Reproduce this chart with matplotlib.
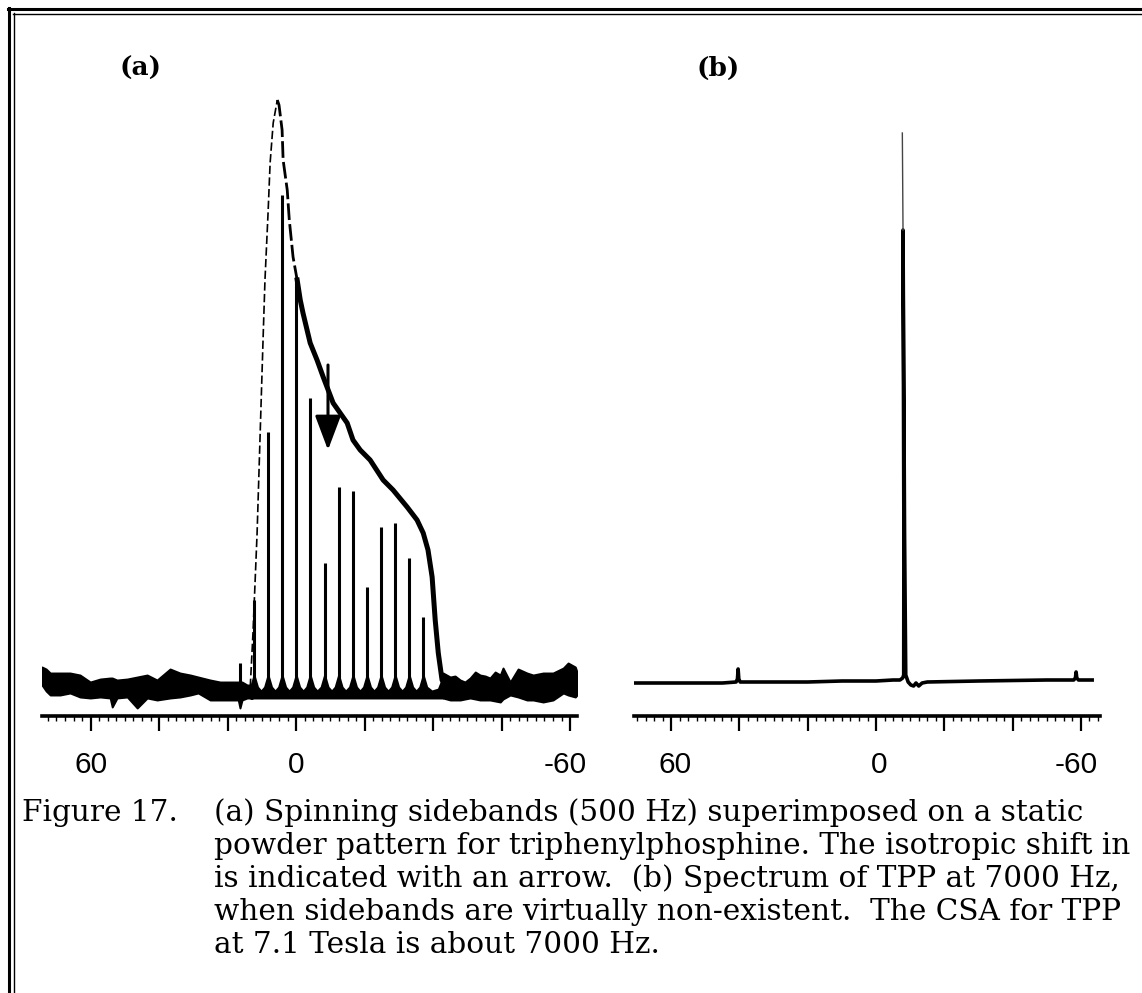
import matplotlib
matplotlib.use("Agg")
import matplotlib.pyplot as plt
from matplotlib.lines import Line2D
from matplotlib.ticker import FixedLocator, NullFormatter
import matplotlib.transforms as mtransforms

W, H, DPI = 1142, 993, 100

# ---------------- data: panel (a) ----------------
# noisy baseline outside the sideband region (ppm, upper / lower edge of trace)
noise_l_x = [74.2, 73.0, 71.8, 68.9, 66.0, 63.1, 60.1, 57.2, 54.3, 53.7, 52.3, 49.3, 46.4,
             43.5, 40.6, 36.8, 33.9, 30.9, 28.6, 25.1, 22.2, 19.3, 16.9, 16.4, 15.8, 14.3, 12.8]
noise_l_hi = [20, 18, 14, 14, 14, 12, 5, 8, 9, 9, 7, 8, 10,
              12, 7, 18, 14, 12, 10, 7, 5, 5, 5, 5, 5, 2, 2]
noise_l_lo = [2, -4, -8, -8, -6, -10, -11, -10, -11, -20, -11, -10, -21,
              -11, -13, -11, -10, -8, -6, -13, -13, -13, -13, -21, -13, -11, -11]
noise_r_x = [-42.9, -45.0, -46.4, -47.9, -49.3, -50.8, -52.3, -53.7, -55.2, -56.6, -58.1, -59.6,
             -60.4, -62.5, -64.8, -67.4, -69.2, -72.1, -75.0, -78.0, -79.4, -81.5, -82.0]
noise_r_hi = [14, 10, 11, 7, 5, 9, 15, 12, 11, 9, 15, 12,
              19, 5, 18, 14, 12, 14, 14, 19, 24, 20, 15]
noise_r_lo = [-11, -13, -13, -13, -12, -11, -12, -13, -13, -13, -14, -15,
              -12, -8, -10, -13, -13, -15, -13, -6, -8, -10, -8]

# spinning sidebands (ppm, height)
sb_pos = [16.4, 12.3, 8.2, 4.1, 0.0, -4.1, -8.3, -12.4, -16.6, -20.7, -24.8, -28.9, -33.0, -37.1]
sb_height = [24, 87, 255, 492, 410, 289, 124, 200, 196, 100, 160, 164, 129, 70]
# skirt levels of the sideband trace: at the spike foot, a quarter way out, mid-valley, bottom edge
skirt_foot, skirt_quarter, skirt_valley, skirt_bottom = 12, 0, -4, -11

# static powder pattern envelope
static_rise_x = [13.4, 12.6, 11.4, 10.5, 9.6, 9.1, 8.2, 7.6, 6.7, 5.5]
static_rise_y = [0, 54, 154, 254, 354, 407, 474, 524, 564, 587]
static_top_x = [5.5, 5.0, 4.1, 3.8, 2.6, 2.0, 0.9, -0.3]
static_top_y = [587, 582, 557, 527, 497, 467, 430, 407]
static_fall_x = [-0.3, -1.2, -2.0, -4.1, -6.1, -7.9, -10.8, -14.9, -16.6, -18.7, -21.6, -25.4,
                 -28.3, -32.4, -35.3, -37.1, -38.5, -39.7, -40.6, -41.5, -42.6, -43.8]
static_fall_y = [407, 387, 374, 344, 327, 310, 284, 264, 247, 237, 227, 207,
                 197, 180, 167, 154, 137, 110, 67, 34, 7, 0]

iso_shift = -9.3
arrow_from, arrow_to = 322, 237

# ---------------- data: panel (b) ----------------
b_x = [70.9, 60, 45, 41.0, 40.6, 40.4, 40.2, 39.8, 30, 20, 10, 0, -5, -7.0, -7.8, -8.1,
       -8.15, -7.9, -8.35, -8.7, -9.4, -10.2, -11.0, -11.7, -12.5, -13.5, -15, -30, -50,
       -57.9, -58.4, -58.6, -58.8, -59.3, -63.3]
b_y = [0, 0, 0, 1, 4, 14, 4, 1, 1, 1, 2, 2, 3, 3, 5, 8,
       150, 453, 150, 8, 1, -2, -3, 0, -3, 0, 1, 2, 3,
       3, 5, 11, 5, 3, 3]
b_peak_top = (-7.9, 453, -7.7, 550)

# ---------------- axis / text ----------------
ticks_major = [60, 40, 20, 0, -20, -40, -60, -80]
ticks_minor_step = 2.5
a_label_pos = [60, 0, -78.5]
b_label_pos = [59, -1, -58.6]
tick_labels = ["60", "0", "-60"]

caption_head = "Figure 17."
caption_lines = [
    "(a) Spinning sidebands (500 Hz) superimposed on a static",
    "powder pattern for triphenylphosphine. The isotropic shift in",
    "is indicated with an arrow.  (b) Spectrum of TPP at 7000 Hz,",
    "when sidebands are virtually non-existent.  The CSA for TPP",
    "at 7.1 Tesla is about 7000 Hz.",
]

fig = plt.figure(figsize=(W / DPI, H / DPI), dpi=DPI)
fig.patch.set_facecolor("white")


def fx(x):
    return x / W


def fy(y):
    return 1 - y / H


def make_axes(x0, x1, xlim, ylim):
    ax = fig.add_axes([fx(x0), fy(716), (x1 - x0) / W, (716 - 90) / H])
    ax.set_xlim(*xlim)
    ax.set_ylim(*ylim)
    ax.patch.set_alpha(0)
    for s in ["left", "right", "top"]:
        ax.spines[s].set_visible(False)
    ax.spines["bottom"].set_linewidth(2.6)
    ax.set_yticks([])
    lo, hi = min(xlim), max(xlim)
    maj = [t for t in ticks_major if lo <= t <= hi]
    ax.xaxis.set_major_locator(FixedLocator(maj))
    n0 = int(lo // ticks_minor_step) - 1
    mins = [k * ticks_minor_step for k in range(n0, int(hi / ticks_minor_step) + 2)]
    mins = [m for m in mins if lo <= m <= hi and m not in maj]
    ax.xaxis.set_minor_locator(FixedLocator(mins))
    ax.xaxis.set_major_formatter(NullFormatter())
    ax.tick_params(axis="x", which="major", direction="out", length=11, width=1.6, color="black")
    ax.tick_params(axis="x", which="minor", direction="out", length=3.5, width=1.0, color="black")
    return ax


axA = make_axes(42, 577, (74.2, -82.0), (-29, 597))
axB = make_axes(634, 1100, (70.9, -65.6), (-33, 593))

# ---- panel (a) drawing ----
axA.fill_between(noise_l_x, noise_l_lo, noise_l_hi, color="black", lw=1.4, edgecolor="black")
axA.fill_between(noise_r_x, noise_r_lo, noise_r_hi, color="black", lw=1.4, edgecolor="black")

# sideband region: dark band whose upper edge dips between spikes
spk = sb_pos[1:]
gap = spk[0] - spk[1]
ux = [12.8]
uy = [0]
for i, p in enumerate(spk):
    ux += [p + gap / 4, p, p - gap / 4]
    uy += [skirt_quarter, skirt_foot, skirt_quarter]
    if i < len(spk) - 1:
        ux.append(p - gap / 2)
        uy.append(skirt_valley)
ux += [-39.6, -41.5, -42.9]
uy += [skirt_valley, -2, 10]
axA.fill_between(ux, [skirt_bottom] * len(ux), uy, color="black", lw=1.4, edgecolor="black")
axA.vlines(sb_pos, [0] * len(sb_pos), sb_height, color="black", lw=2.2)

# static pattern
axA.plot(static_rise_x, static_rise_y, color="black", lw=1.2, ls=(0, (5, 2)))
axA.plot(static_top_x, static_top_y, color="black", lw=2.0, ls=(0, (6, 1.5)))
axA.plot(static_fall_x, static_fall_y, color="black", lw=3.6, solid_joinstyle="round")

axA.annotate("", xy=(iso_shift, arrow_to), xytext=(iso_shift, arrow_from),
             arrowprops=dict(arrowstyle="-|>,head_length=0.85,head_width=0.32",
                             lw=2.2, color="black", mutation_scale=25,
                             shrinkA=0, shrinkB=0))

# ---- panel (b) drawing ----
axB.plot(b_x, b_y, color="black", lw=2.6, solid_joinstyle="round")
axB.plot([b_peak_top[0], b_peak_top[2]], [b_peak_top[1], b_peak_top[3]],
         color="#444444", lw=1.0)

# ---- tick labels ----
for ax, positions in ((axA, a_label_pos), (axB, b_label_pos)):
    tr = mtransforms.blended_transform_factory(ax.transData, fig.transFigure)
    for p, lab in zip(positions, tick_labels):
        ax.text(p, fy(765), lab, transform=tr, ha="center", va="center",
                fontsize=21.5, family="Liberation Sans", color="black", clip_on=False)

# ---- panel letters ----
fig.text(fx(141), fy(68), "(a)", ha="center", va="center", fontsize=19,
         family="DejaVu Serif", fontweight="bold")
fig.text(fx(718), fy(68), "(b)", ha="center", va="center", fontsize=19,
         family="DejaVu Serif", fontweight="bold")

# ---- caption ----
cap_fs = 20
baselines = [821, 854, 887, 920, 953]
head = fig.text(fx(22), fy(baselines[0]), caption_head, fontsize=cap_fs,
                family="DejaVu Serif", va="baseline", ha="left")
cap_texts = []
for yb, line in zip(baselines, caption_lines):
    cap_texts.append(fig.text(fx(214), fy(yb), line, fontsize=cap_fs,
                              family="DejaVu Serif", va="baseline", ha="left"))
fig.canvas.draw()
r = fig.canvas.get_renderer()
w = cap_texts[1].get_window_extent(r).width
new_fs = cap_fs * 911 / w
for t in cap_texts + [head]:
    t.set_fontsize(new_fs)

# ---- frame ----
fig.add_artist(Line2D([fx(9), fx(9)], [fy(8), fy(993)], color="black", lw=2.2))
fig.add_artist(Line2D([fx(14), fx(14)], [fy(13), fy(993)], color="black", lw=1.0))
fig.add_artist(Line2D([fx(8), fx(1142)], [fy(9), fy(9)], color="black", lw=2.2))
fig.add_artist(Line2D([fx(13), fx(1142)], [fy(14), fy(14)], color="black", lw=1.0))

fig.savefig("out.png", dpi=DPI, facecolor="white")
